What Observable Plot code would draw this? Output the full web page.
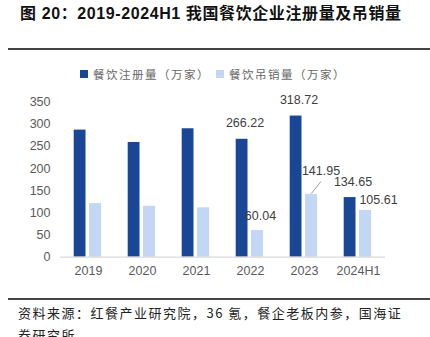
<!DOCTYPE html>
<html><head><meta charset="utf-8">
<script src="https://cdn.jsdelivr.net/npm/d3@7"></script>
<script src="https://cdn.jsdelivr.net/npm/@observablehq/plot@0.6"></script>
<style>
html,body{margin:0;padding:0;background:#fff;width:430px;height:337px;overflow:hidden;position:relative;font-family:"Liberation Sans","Noto Sans CJK SC",sans-serif;}
.abs{position:absolute;white-space:nowrap;}
#title{left:20px;top:0px;font-size:16px;letter-spacing:0.6px;font-weight:bold;color:#111;}
.rule{position:absolute;left:8px;width:422px;height:1.5px;background:#444;}
#legend{left:80px;top:66px;font-size:11.5px;color:#666;font-family:"Noto Sans CJK SC",sans-serif;display:flex;align-items:center;letter-spacing:1.5px;}
.sw{display:inline-block;width:8px;height:8px;margin-right:5px;}
#chart{position:absolute;left:0;top:90px;}
#foot{left:18px;top:302px;font-size:13px;letter-spacing:1.5px;color:#222;line-height:22px;font-family:"Noto Sans CJK SC",sans-serif;}
</style></head>
<body>
<div id="title" class="abs">图 20：2019-2024H1 我国餐饮企业注册量及吊销量</div>
<div class="rule" style="top:48px"></div>
<div id="legend" class="abs"></div>
<div id="chart"></div>
<div class="rule" style="top:298px"></div>
<div id="foot" class="abs">资料来源：红餐产业研究院，36 氪，餐企老板内参，国海证<br>券研究所</div>
<script>
const years = ["2019","2020","2021","2022","2023","2024H1"];
const registered = [287, 259, 290, 266.22, 318.72, 134.65];
const revoked = [121, 115, 111.5, 60.04, 141.95, 105.61];
const seriesNames = ["餐饮注册量（万家）", "餐饮吊销量（万家）"];
const colors = ["#1a4795", "#c3d7f4"];
const labeledYears = ["2022","2023","2024H1"];

const leg = document.getElementById("legend");
seriesNames.forEach((n,i)=>{
  const s = document.createElement("span");
  s.style.display="inline-flex"; s.style.alignItems="center"; s.style.marginRight = i===0 ? "6px" : "0";
  s.innerHTML = `<span class="sw" style="background:${colors[i]}"></span>${n}`;
  leg.appendChild(s);
});

const dark = years.map((y,i)=>({year:y, value:registered[i]}));
const light = years.map((y,i)=>({year:y, value:revoked[i]}));
const fmt = d => d.value.toFixed(2);
const lab = (arr, y) => arr.filter(d => d.year === y);

const chart = Plot.plot({
  width: 430, height: 200,
  marginLeft: 60, marginRight: 45, marginTop: 11.7, marginBottom: 33.3,
  style: {fontFamily: "Liberation Sans, Arial, sans-serif", fontSize: "12.5px", color: "#595959", background: "transparent"},
  x: {domain: years, padding: 0, label: null, tickSize: 0, tickPadding: 9},
  y: {domain: [0, 350], ticks: d3.range(0, 351, 50), label: null, tickSize: 0, tickPadding: 10},
  marks: [
    Plot.barY(dark, {x: "year", y: "value", fill: colors[0], insetLeft: 12.7, insetRight: 29.5}),
    Plot.barY(light, {x: "year", y: "value", fill: colors[1], insetLeft: 28, insetRight: 13.9}),
    Plot.ruleY([0], {stroke: "#d9d9d9", strokeWidth: 1.2}),
    Plot.text(dark.filter(d => labeledYears.includes(d.year)), {x: "year", y: "value", text: fmt, dx: -5.5, dy: -16, fill: "#404040", fontSize: 12.5}),
    Plot.text(lab(light, "2022"), {x: "year", y: "value", text: fmt, dx: 10, dy: -15, fill: "#404040", fontSize: 12.5}),
    Plot.text(lab(light, "2023"), {x: "year", y: "value", text: fmt, dx: 16.5, dy: -23.5, fill: "#404040", fontSize: 12.5}),
    Plot.text(lab(light, "2024H1"), {x: "year", y: "value", text: fmt, dx: 20, dy: -10.7, fill: "#404040", fontSize: 12.5}),
    Plot.vector(lab(light, "2023"), {x: "year", y: "value", dx: 7, dy: -1, anchor: "start", length: 14.9, rotate: 38.7, stroke: "#8c8c8c", strokeWidth: 0.8,
      shape: {draw(ctx, l) { ctx.moveTo(0, 0); ctx.lineTo(0, -l); }}})
  ]
});
document.getElementById("chart").appendChild(chart);
</script>
</body></html>
